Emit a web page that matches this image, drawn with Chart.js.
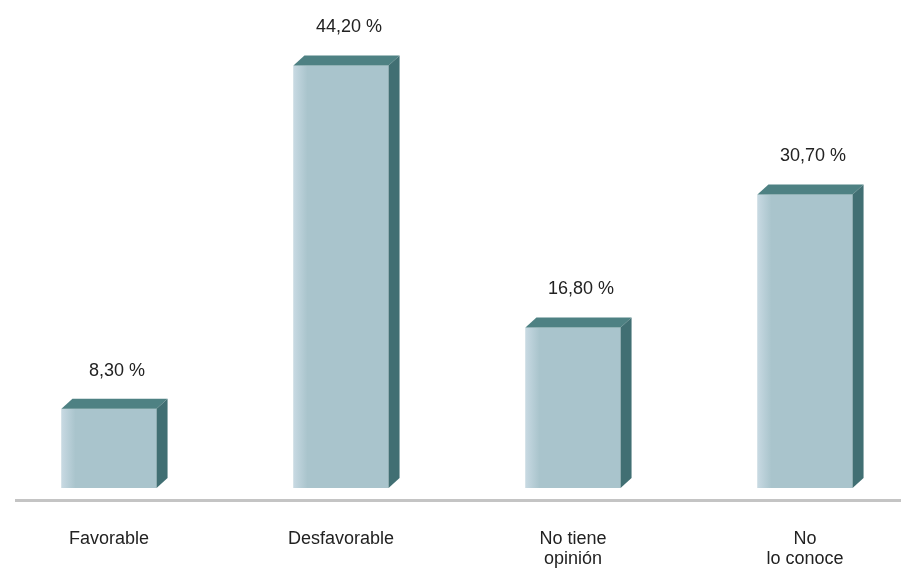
<!DOCTYPE html>
<html lang="es">
<head>
<meta charset="UTF-8">
<title>Opinión</title>
<style>
  body { margin: 0; background: #fff; }
  #marco { width: 901px; height: 570px; }
</style>
</head>
<body>
<div id="marco"><canvas id="grafico"></canvas></div>
<script src="https://cdn.jsdelivr.net/npm/chart.js"></script>
<script>
const categorias = ['Favorable', 'Desfavorable', ['No tiene', 'opinión'], ['No', 'lo conoce']];
const porcentajes = [8.3, 44.2, 16.8, 30.7];

const colorFrente = '#a9c4cc';
const colorTapa = '#4e8183';
const colorLado = '#416f73';

function formato(v) {
    return v.toFixed(2).replace('.', ',') + ' %';
}

// caras de arriba y costado, piso gris y valores encima de cada columna
const caras3d = {
    id: 'caras3d',
    beforeDatasetsDraw(chart) {
        const ctx = chart.ctx;
        const area = chart.chartArea;
        ctx.save();
        ctx.fillStyle = '#c4c4c4';
        ctx.fillRect(15, area.bottom + 11, chart.width - 15, 3);
        ctx.restore();
    },
    afterDatasetsDraw(chart) {
        const ctx = chart.ctx;
        const dx = 11, dy = 10;
        const barras = chart.getDatasetMeta(0).data;
        ctx.save();
        barras.forEach((b, i) => {
            const izq = b.x - b.width / 2;
            const der = b.x + b.width / 2;
            // brillo en el borde izquierdo
            const g = ctx.createLinearGradient(izq, 0, izq + 14, 0);
            g.addColorStop(0, 'rgba(225,235,245,0.55)');
            g.addColorStop(1, 'rgba(225,235,245,0)');
            ctx.fillStyle = g;
            ctx.fillRect(izq, b.y, 14, b.base - b.y);

            ctx.fillStyle = colorTapa;
            ctx.beginPath();
            ctx.moveTo(izq, b.y);
            ctx.lineTo(izq + dx, b.y - dy);
            ctx.lineTo(der + dx, b.y - dy);
            ctx.lineTo(der, b.y);
            ctx.closePath();
            ctx.fill();

            ctx.fillStyle = colorLado;
            ctx.beginPath();
            ctx.moveTo(der, b.y);
            ctx.lineTo(der + dx, b.y - dy);
            ctx.lineTo(der + dx, b.base - dy);
            ctx.lineTo(der, b.base);
            ctx.closePath();
            ctx.fill();

            ctx.fillStyle = '#222';
            ctx.font = '18px "Liberation Sans", Arial, sans-serif';
            ctx.textAlign = 'center';
            ctx.textBaseline = 'middle';
            ctx.fillText(formato(porcentajes[i]), b.x + 8, b.y - 38);
        });
        ctx.restore();
    }
};

new Chart(document.getElementById('grafico'), {
    type: 'bar',
    data: {
        labels: categorias,
        datasets: [{
            data: porcentajes,
            backgroundColor: colorFrente,
            borderWidth: 0,
            categoryPercentage: 1,
            barPercentage: 0.41,
            clip: false
        }]
    },
    options: {
        responsive: true,
        maintainAspectRatio: false,
        animation: false,
        layout: {
            padding: { left: 109, right: 96, top: 10, bottom: 0 }
        },
        scales: {
            x: {
                offset: false,
                grid: { display: false },
                border: { display: false },
                ticks: {
                    color: '#222',
                    padding: 33,
                    maxRotation: 0,
                    autoSkip: false,
                    font: { family: '"Liberation Sans", Arial, sans-serif', size: 18, lineHeight: 1.1 }
                },
                afterFit(s) { s.height = 82; }
            },
            y: {
                display: false,
                min: 0,
                max: 50
            }
        },
        plugins: {
            legend: { display: false },
            tooltip: { enabled: false }
        }
    },
    plugins: [caras3d]
});
</script>
</body>
</html>
